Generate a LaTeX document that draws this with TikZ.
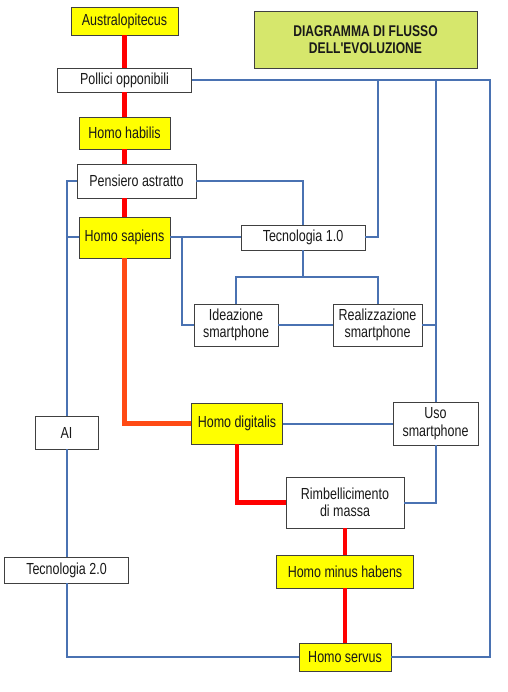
\documentclass[tikz,border=0pt]{standalone}
\usepackage{fontspec}
\setmainfont[FakeStretch=0.78]{Liberation Sans}
\newfontfamily\titlefont[FakeStretch=0.78]{Liberation Sans}
\definecolor{boxyellow}{HTML}{FFFF00}
\definecolor{titlegreen}{HTML}{D6E76C}
\definecolor{linkblue}{HTML}{4A72B2}
\definecolor{evored}{HTML}{FF0000}
\definecolor{evoorange}{HTML}{FF4A14}
\begin{document}
\begin{tikzpicture}[x=1pt,y=-1pt,
    box/.style={draw=black!75,line width=0.8pt,fill=white,inner sep=0pt,
      align=center,text=black!90,font=\fontsize{16}{17.5}\selectfont},
    stage/.style={box,fill=boxyellow},
    link/.style={draw=linkblue,line width=2pt},
    evo/.style={draw=evored,line width=4.5pt},
    evoalt/.style={draw=evoorange,line width=4.5pt}]
  \useasboundingbox (0,0) rectangle (507,692);
  % caselle
  \node[stage,minimum width=107,minimum height=28] (au) at (124.5,21) {Australopitecus};
  \node[box,fill=titlegreen,minimum width=223,minimum height=57,
    font=\titlefont\bfseries\fontsize{15.5}{17.5}\selectfont] (title) at (365.5,39.5)
    {DIAGRAMMA DI FLUSSO\\DELL'EVOLUZIONE};
  \node[box,minimum width=134,minimum height=24] (po) at (124.5,80) {Pollici opponibili};
  \node[stage,minimum width=91,minimum height=32] (hh) at (124.5,133) {Homo habilis};
  \node[box,minimum width=119,minimum height=34] (pa) at (136.5,181) {Pensiero astratto};
  \node[stage,minimum width=91,minimum height=41] (hs) at (124.5,237.5) {Homo sapiens};
  \node[box,minimum width=124,minimum height=25] (t1) at (303,237.5) {Tecnologia 1.0};
  \node[box,minimum width=84,minimum height=42] (id) at (236,325) {Ideazione\\smartphone};
  \node[box,minimum width=89,minimum height=42] (rs) at (377.5,325) {Realizzazione\\smartphone};
  \node[box,minimum width=63,minimum height=33] (ai) at (66.5,432.5) {AI};
  \node[stage,minimum width=91,minimum height=41] (hd) at (237,423.5) {Homo digitalis};
  \node[box,minimum width=85,minimum height=43] (us) at (435.5,423.5) {Uso\\smartphone};
  \node[box,minimum width=118,minimum height=51] (rb) at (345,502.5) {Rimbellicimento\\di massa};
  \node[box,minimum width=124,minimum height=26] (t2) at (66.5,570) {Tecnologia 2.0};
  \node[stage,minimum width=137,minimum height=33] (mh) at (345,571.5) {Homo minus habens};
  \node[stage,minimum width=92,minimum height=28] (sv) at (345,657) {Homo servus};
  \coordinate (r1) at (378,80); \coordinate (r3) at (490,80);
  % collegamenti blu
  \draw[link] (po.east) -- (r3) |- (sv.east);
  \draw[link] (r1) |- (t1.east);
  \draw[link] (us.north |- po.east) -- (us.north);
  \draw[link] (pa.west) -| (ai.north);
  \draw[link] (hs.west) -- (hs.west -| ai.north);
  \draw[link] (ai.south) -- (t2.north); \draw[link] (t2.south) |- (sv.west);
  \draw[link] (pa.east) -| (t1.north); \draw[link] (hs.east) -- (t1.west);
  \draw[link] (hs.east) ++(12,0) |- (id.west);
  \draw[link] (t1.south) -- ++(0,27) coordinate (tj);
  \draw[link] (id.north) |- (tj) -| (rs.north);
  \draw[link] (id.east) -- (rs.west); \draw[link] (rs.east) -- (rs.east -| us.north);
  \draw[link] (hd.east) -- (us.west); \draw[link] (us.south) |- (rb.east);
  % linea evolutiva
  \draw[evo] (au.south) -- (po.north); \draw[evo] (po.south) -- (hh.north);
  \draw[evo] (hh.south) -- (hh.south |- pa.north);
  \draw[evo] (pa.south -| hs.north) -- (hs.north);
  \draw[evoalt] (hs.south) |- (hd.west);
  \draw[evo] (hd.south) |- (rb.west);
  \draw[evo] (rb.south) -- (mh.north); \draw[evo] (mh.south) -- (sv.north);
\end{tikzpicture}
\end{document}
